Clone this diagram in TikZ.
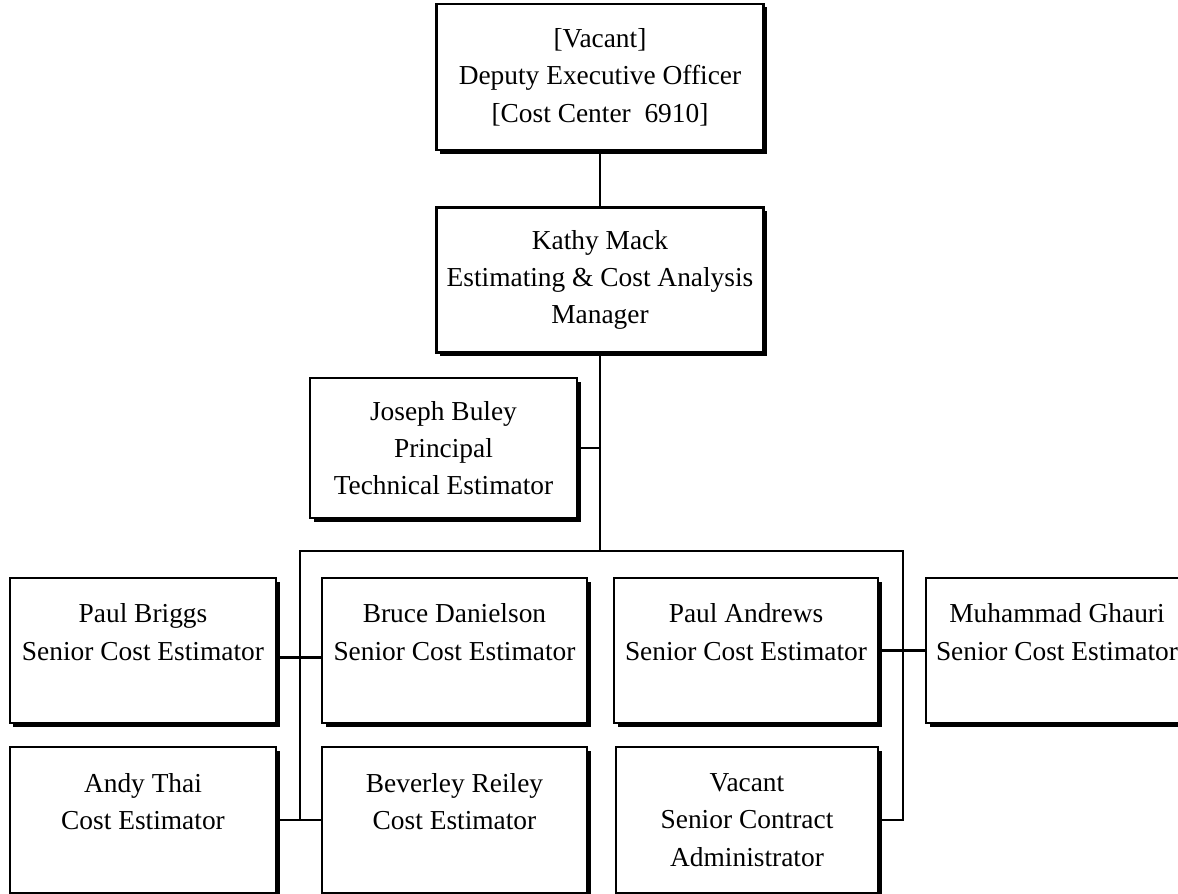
\documentclass[tikz,border=0pt]{standalone}
\usepackage{fontspec}
\setmainfont{Liberation Serif}
\usepackage{tikz}
\usetikzlibrary{shadows}

\begin{document}
\begin{tikzpicture}[x=1bp,y=-1bp,line width=2.2bp,
  orgbox/.style={draw,fill=white,rectangle,align=center,inner sep=0pt,
    font=\fontsize{27.5}{37.5}\selectfont,minimum height=145bp,
    drop shadow={shadow xshift=3.5bp,shadow yshift=-3.5bp,opacity=1,fill=black}}]
\useasboundingbox (0,0) rectangle (1178,894);
\clip (0,0) rectangle (1178,894);
\node[orgbox,minimum width=327bp,minimum height=146bp] (D) at (600,77) {{[}Vacant{]}\\Deputy Executive Officer\\{[}Cost Center\ \ 6910{]}};
\node[orgbox,minimum width=327bp] (K) at (600,280) {Kathy Mack\\Estimating \& Cost Analysis\\Manager};
\node[orgbox,minimum width=267bp,minimum height=140bp] (J) at (443.5,448) {Joseph Buley\\Principal\\Technical Estimator};
\node[orgbox,minimum width=266bp] (PB) at (143,650.5) {Paul Briggs\\Senior Cost Estimator\\~};
\node[orgbox,minimum width=265bp] (BD) at (454.5,650.5) {Bruce Danielson\\Senior Cost Estimator\\~};
\node[orgbox,minimum width=264bp] (PA) at (746,650.5) {Paul Andrews\\Senior Cost Estimator\\~};
\node[orgbox,minimum width=262bp] (MG) at (1057,650.5) {Muhammad Ghauri\\Senior Cost Estimator\\~};
\node[orgbox,minimum width=266bp,minimum height=146bp] (AT) at (143,820) {Andy Thai\\Cost Estimator\\~};
\node[orgbox,minimum width=265bp,minimum height=146bp] (BR) at (454.5,820) {Beverley Reiley\\Cost Estimator\\~};
\node[orgbox,minimum width=262bp,minimum height=146bp] (VA) at (747,820) {Vacant\\Senior Contract\\Administrator};
\coordinate (busL) at (300,551);
\coordinate (busR) at (903,551);
\draw (D) -- (K);
\draw (K.south) -- (K.south |- busL);
\draw (J.east) -- (J.east -| K.south);
\draw (busL |- AT.east) -- (busL) -- (busR) -- (busR |- VA.east) -- (VA.east);
\draw ([yshift=-7bp]PB.east) -- ([yshift=-7bp]BD.west);
\draw (AT.east) -- (BR.west);
\draw (PA.east) -- (MG.west);
\end{tikzpicture}
\end{document}
